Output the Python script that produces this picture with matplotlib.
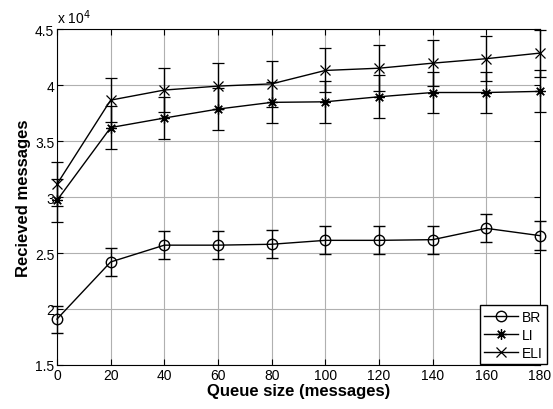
import matplotlib
matplotlib.use("Agg")
import matplotlib.pyplot as plt
from matplotlib.lines import Line2D
import numpy as np

plt.rcParams['font.family'] = ['Liberation Sans', 'DejaVu Sans']

queue = [0, 20, 40, 60, 80, 100, 120, 140, 160, 180]
br = [19100, 24200, 25700, 25700, 25780, 26130, 26130, 26190, 27200, 26550]
br_err = [1200, 1250, 1240, 1250, 1250, 1250, 1250, 1250, 1250, 1280]
li = [29700, 36200, 37050, 37850, 38450, 38500, 38950, 39330, 39330, 39430]
li_err = [1900, 1930, 1870, 1880, 1840, 1850, 1940, 1830, 1830, 1870]
eli = [31150, 38650, 39550, 39900, 40100, 41300, 41500, 41950, 42350, 42850]
eli_err = [1950, 1950, 1960, 2080, 2050, 1960, 2030, 2030, 2030, 2100]

W, H = 553, 410
fig = plt.figure(figsize=(W/100, H/100), dpi=100)
ax = fig.add_axes([57/W, 1 - 366/H, (540-57)/W, (366-30)/H])

ast = (8, 2, 0)
kw = dict(color='black', lw=1.0, capsize=4, elinewidth=1.0, capthick=1.0, ms=7.5, clip_on=False)
ax.errorbar(queue, br, yerr=br_err, marker='o', mfc='none', mec='black', **kw)
ax.errorbar(queue, li, yerr=li_err, marker=ast, mfc='none', mec='black', mew=0.9, **kw)
ax.errorbar(queue, eli, yerr=eli_err, marker='x', mec='black', mew=0.9, **kw)

ax.set_xlim(0, 180)
ax.set_ylim(15000, 45000)
ax.set_xticks(queue)
ax.set_yticks([15000, 20000, 25000, 30000, 35000, 40000, 45000])
ax.set_yticklabels(['1.5', '2', '2.5', '3', '3.5', '4', '4.5'])
ax.grid(True, color='#b0b0b0', lw=0.8)
ax.tick_params(direction='in', top=True, right=True, labelsize=10, length=4, pad=2)
ax.text(0.0, 1.01, r'x 10$^4$', transform=ax.transAxes, fontsize=10, ha='left', va='bottom')
ax.set_xlabel('Queue size (messages)', fontsize=12, fontweight='bold', labelpad=1)
ax.set_ylabel('Recieved messages', fontsize=12, fontweight='bold', labelpad=3)
for s in ax.spines.values():
    s.set_linewidth(0.8)

handles = [
    Line2D([], [], color='black', lw=1.0, marker='o', mfc='none', ms=7.5),
    Line2D([], [], color='black', lw=1.0, marker=ast, ms=7.5, mew=0.9),
    Line2D([], [], color='black', lw=1.0, marker='x', ms=7.5, mew=0.9),
]
leg = fig.legend(handles, ['BR', 'LI', 'ELI'], loc='lower right',
                 bbox_to_anchor=(547/W, 1 - 365/H), fontsize=10, frameon=True,
                 fancybox=False, edgecolor='black', framealpha=1, handlelength=2.4,
                 borderpad=0.3, labelspacing=0.3, handletextpad=0.3, borderaxespad=0)
leg.get_frame().set_linewidth(1.0)

fig.savefig('out.png', dpi=100)
